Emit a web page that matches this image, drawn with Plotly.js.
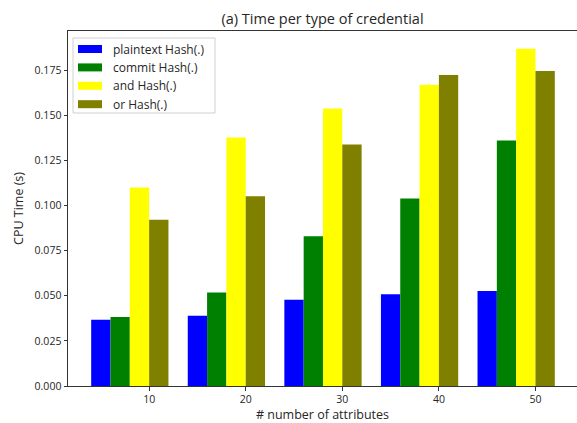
<!DOCTYPE html>
<html><head><meta charset="utf-8">
<script src="https://cdn.plot.ly/plotly-3.0.1.min.js"></script>
<style>html,body{margin:0;padding:0;background:#fff}</style>
</head><body><div id="chart" style="width:577px;height:423px"></div>
<script>
const categories = [10, 20, 30, 40, 50];
const seriesNames = ["plaintext Hash(.)", "commit Hash(.)", "and Hash(.)", "or Hash(.)"];
const plaintext = [0.0367, 0.0390, 0.0478, 0.0509, 0.0526];
const commit = [0.0382, 0.0518, 0.0830, 0.1039, 0.1361];
const andH = [0.1100, 0.1378, 0.1539, 0.1670, 0.1870];
const orH = [0.0922, 0.1052, 0.1339, 0.1724, 0.1746];
const yTicks = [0, 0.025, 0.05, 0.075, 0.1, 0.125, 0.15, 0.175];
const yTickText = ["0.000","0.025","0.050","0.075","0.100","0.125","0.150","0.175"];

const colors = ["#0000ff", "#008000", "#ffff00", "#808000"];
const offsets = [-6, -4, -2, 0];
const values = [plaintext, commit, andH, orH];
const FAM = "Open Sans, DejaVu Sans, sans-serif";
const TXT = "#262626";
const tickFont = {family: FAM, size: 10.5, color: TXT};
const labelFont = {family: FAM, size: 12.5, color: TXT};

const data = values.map((v, i) => ({
  type: "bar", x: categories, y: v, name: seriesNames[i],
  width: 2, offset: offsets[i], showlegend: false,
  marker: {color: colors[i], line: {width: 0}}
}));

// plot area in pixels
const W = 577, H = 423, ML = 68, MR = 0, MT = 31, MB = 37;
const pw = W - ML - MR, ph = H - MT - MB;
const px = x => (x - ML) / pw;
const py = y => (H - MB - y) / ph;

// manual legend (matplotlib style)
const shapes = [{type: "rect", xref: "paper", yref: "paper",
  x0: px(73), x1: px(215), y0: py(113), y1: py(38),
  line: {color: "#d0d0d0", width: 1}, fillcolor: "rgba(255,255,255,0.8)", layer: "above"}];
const annotations = [];
seriesNames.forEach((name, i) => {
  const cy = 49 + i * 18.4;
  shapes.push({type: "rect", xref: "paper", yref: "paper",
    x0: px(78), x1: px(102), y0: py(cy + 4), y1: py(cy - 4),
    line: {width: 0}, fillcolor: colors[i], layer: "above"});
  annotations.push({xref: "paper", yref: "paper", x: px(111), y: py(cy),
    xanchor: "left", yanchor: "middle", text: name, showarrow: false,
    font: {family: FAM, size: 12, color: TXT}});
});

const layout = {
  width: W, height: H,
  margin: {l: ML, r: MR, t: MT, b: MB},
  barmode: "overlay",
  font: tickFont,
  paper_bgcolor: "#fff", plot_bgcolor: "#fff",
  title: {text: "(a) Time per type of credential", font: {family: FAM, size: 14.5, color: TXT},
    xref: "paper", x: 0.5, xanchor: "center", yref: "container", y: 1 - 19 / H, yanchor: "middle"},
  xaxis: {range: [1.6, 54.3], tickvals: categories, ticktext: categories.map(String),
    ticks: "outside", ticklen: 3.5, tickcolor: "#333", showgrid: false, zeroline: false,
    showline: true, linecolor: "#333", linewidth: 1, mirror: true, tickfont: tickFont,
    title: {text: "# number of attributes", font: labelFont, standoff: 3}},
  yaxis: {range: [0, 0.1968], tickvals: yTicks, ticktext: yTickText,
    ticks: "outside", ticklen: 3.5, tickcolor: "#333", showgrid: false, zeroline: false,
    showline: true, linecolor: "#333", linewidth: 1, mirror: true, tickfont: tickFont,
    title: {text: "CPU Time (s)", font: labelFont, standoff: 8}},
  shapes: shapes,
  annotations: annotations,
  showlegend: false
};
Plotly.newPlot("chart", data, layout, {displayModeBar: false, staticPlot: true});
</script></body></html>
